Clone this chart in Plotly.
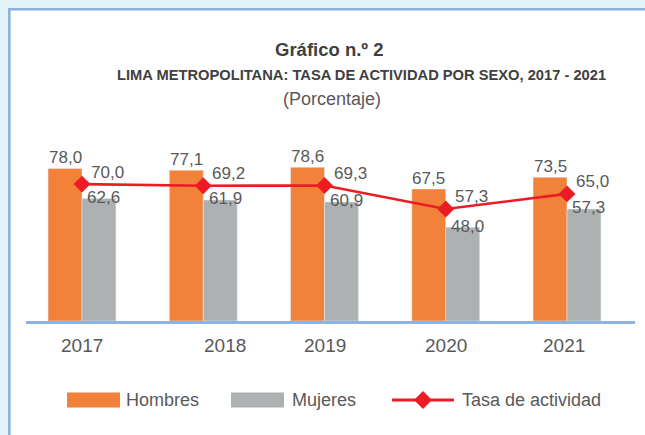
import plotly.graph_objects as go

# ---- data ----
years = ["2017", "2018", "2019", "2020", "2021"]
hombres = [78.0, 77.1, 78.6, 67.5, 73.5]
mujeres = [62.6, 61.9, 60.9, 48.0, 57.3]
tasa = [70.0, 69.2, 69.3, 57.3, 65.0]

def fmt(v):
    return f"{v:.1f}".replace(".", ",")

# ---- style ----
ORANGE = "#F2823A"
GREY = "#AEB1B1"
RED = "#ED1C24"
TXT = "#595959"
TITLE = "#404040"
AXIS = "#8DB3E2"
BORDER = "#8EB1DA"
OUTSIDE = "#E3F2F8"
FONT = "Liberation Sans, Arial, sans-serif"

FW, FH = 645, 435
L, R, T, B = 26, 635, 145, 321
W, H = R - L, B - T
UNIT = 121.25      # px per category
FIRST = 82         # px centre of first category
YMAX = 90
BARGAP = 0.44
HALF = (1 - BARGAP) / 4   # offset of each bar centre from category centre

def px(x):
    return (x - L) / W

def py(y):
    return (B - y) / H

fig = go.Figure()
fig.add_trace(go.Bar(x=years, y=hombres, name="Hombres", marker_color=ORANGE,
                     showlegend=False))
fig.add_trace(go.Bar(x=years, y=mujeres, name="Mujeres", marker_color=GREY,
                     showlegend=False))
fig.add_trace(go.Scatter(
    x=years, y=tasa, name="Tasa de actividad", mode="lines+markers",
    line=dict(color=RED, width=2.6),
    marker=dict(symbol="diamond", size=13, color=RED),
    cliponaxis=False, showlegend=False,
))

shapes = []
# white panel with blue border on top/left
shapes.append(dict(type="rect", xref="paper", yref="paper", layer="below",
                   x0=px(9.3), x1=px(FW + 20), y0=py(FH + 20), y1=py(9.3),
                   fillcolor="white", line=dict(color=BORDER, width=2.6)))

annotations = []
lab_font = dict(size=17, color=TXT, family=FONT)
# value labels
for i, (h, m, t) in enumerate(zip(hombres, mujeres, tasa)):
    annotations.append(dict(text=fmt(h), xref="x", yref="y", x=i - HALF, y=h,
                            xanchor="center", yanchor="bottom", yshift=-1,
                            showarrow=False, font=lab_font))
    annotations.append(dict(text=fmt(m), xref="x", yref="y", x=i + HALF, y=m,
                            xanchor="center", yanchor="middle", xshift=5, yshift=1,
                            showarrow=False, font=lab_font))
    annotations.append(dict(text=fmt(t), xref="x", yref="y", x=i, y=t,
                            xanchor="left", yanchor="middle", xshift=7, yshift=12,
                            showarrow=False, font=lab_font))

# titles
annotations.append(dict(text="<b>Gráfico n.º 2</b>", xref="paper", yref="paper",
                        x=px(329), y=py(49), xanchor="center", yanchor="middle",
                        showarrow=False, font=dict(size=18.5, color=TITLE, family=FONT)))
annotations.append(dict(text="<b>LIMA METROPOLITANA: TASA DE ACTIVIDAD POR SEXO, 2017 - 2021</b>",
                        xref="paper", yref="paper", x=px(361), y=py(75),
                        xanchor="center", yanchor="middle", showarrow=False,
                        font=dict(size=14.7, color=TITLE, family=FONT)))
annotations.append(dict(text="(Porcentaje)", xref="paper", yref="paper",
                        x=px(332), y=py(99), xanchor="center", yanchor="middle",
                        showarrow=False, font=dict(size=18, color=TXT, family=FONT)))

# category labels
LABEL_SHIFT = {"2018": 22, "2021": -3}
for i, yr in enumerate(years):
    annotations.append(dict(text=yr, xref="x", yref="paper", x=i, y=py(345),
                            xanchor="center", yanchor="middle", showarrow=False,
                            xshift=LABEL_SHIFT.get(yr, 0),
                            font=dict(size=19, color=TXT, family=FONT)))

# legend (custom)
LEG_Y = 400
shapes.append(dict(type="rect", xref="paper", yref="paper",
                   x0=px(67), x1=px(120), y0=py(LEG_Y + 7.5), y1=py(LEG_Y - 7.5),
                   fillcolor=ORANGE, line=dict(width=0)))
shapes.append(dict(type="rect", xref="paper", yref="paper",
                   x0=px(231), x1=px(284), y0=py(LEG_Y + 7.5), y1=py(LEG_Y - 7.5),
                   fillcolor=GREY, line=dict(width=0)))
shapes.append(dict(type="line", xref="paper", yref="paper",
                   x0=px(392), x1=px(454), y0=py(LEG_Y), y1=py(LEG_Y),
                   line=dict(color=RED, width=3)))
cx, d = 423, 9
shapes.append(dict(type="path", xref="paper", yref="paper",
                   path=f"M {px(cx - d)} {py(LEG_Y)} L {px(cx)} {py(LEG_Y - d)} "
                        f"L {px(cx + d)} {py(LEG_Y)} L {px(cx)} {py(LEG_Y + d)} Z",
                   fillcolor=RED, line=dict(width=0)))
for label, x0 in [("Hombres", 124), ("Mujeres", 290), ("Tasa de actividad", 460)]:
    annotations.append(dict(text=label, xref="paper", yref="paper", x=px(x0), y=py(LEG_Y),
                            xanchor="left", yanchor="middle", showarrow=False,
                            font=dict(size=18, color=TXT, family=FONT)))

fig.update_layout(
    width=FW, height=FH,
    margin=dict(l=L, r=FW - R, t=T, b=FH - B, pad=0),
    paper_bgcolor=OUTSIDE, plot_bgcolor="rgba(0,0,0,0)",
    barmode="group", bargap=BARGAP, bargroupgap=0,
    showlegend=False, hovermode=False,
    shapes=shapes, annotations=annotations,
    font=dict(family=FONT, color=TXT),
)
fig.update_xaxes(type="category",
                 range=[(L - FIRST) / UNIT, (R - FIRST) / UNIT],
                 showline=True, linecolor=AXIS, linewidth=2.6,
                 showticklabels=False, ticks="", showgrid=False, zeroline=False,
                 fixedrange=True)
fig.update_yaxes(range=[0, YMAX], visible=False, showgrid=False, zeroline=False,
                 fixedrange=True)

fig.write_html("out.html", config={"displayModeBar": False, "staticPlot": True},
               post_script="document.body.style.margin='0';document.body.style.overflow='hidden';")
